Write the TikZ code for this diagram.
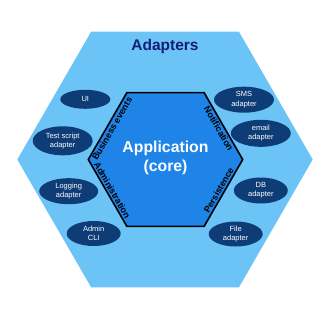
\documentclass[tikz,border=0pt]{standalone}
\usepackage{fontspec}
\setmainfont{Liberation Sans}
\usetikzlibrary{shapes.geometric}
\definecolor{outerblue}{RGB}{108,196,246}
\definecolor{coreblue}{RGB}{30,132,232}
\definecolor{navy}{RGB}{14,60,118}
\definecolor{titlenavy}{RGB}{18,30,120}
\tikzset{
  adapter/.style={ellipse, fill=navy, text=white, inner sep=0pt, align=center,
    font=\fontsize{7.5}{9.3}\selectfont},
  edgelabel/.style={font=\bfseries\fontsize{9}{10}\selectfont, text=black, inner sep=0pt},
}
\begin{document}
\begin{tikzpicture}[x=1pt,y=-1pt]
\useasboundingbox (0,0) rectangle (330,330);
\fill[white] (0,0) rectangle (330,330);
% outer hexagon
\fill[outerblue] (17.3,159.5) -- (91.2,31.6) -- (238.9,31.6) -- (312.7,159.5) -- (238.9,287.4) -- (91.2,287.4) -- cycle;
% inner hexagon
\filldraw[fill=coreblue, draw=black, line width=1.6pt, line join=miter]
  (88.3,159.5) -- (126.9,92.6) -- (204.1,92.6) -- (242.7,159.5) -- (204.1,226.4) -- (126.9,226.4) -- cycle;
\node[text=titlenavy, font=\bfseries\fontsize{15.5}{18}\selectfont] (title) at (165,46.5) {Adapters};
\node[text=white, align=center, font=\bfseries\fontsize{15.8}{19.5}\selectfont] (core) at (165.5,158) {Application\\(core)};
% edge labels
\node[edgelabel, rotate=60] (be) at (112.2,128.6) {Business events};
\node[edgelabel, rotate=-60] (adm) at (112.2,190.4) {Administration};
\node[edgelabel, rotate=-60] (notif) at (218.8,128.6) {Notification};
\node[edgelabel, rotate=60] (pers) at (218.8,190.4) {Persistence};
% adapters
\node[adapter, minimum width=50pt, minimum height=19pt] (ui) at (85.3,99.3) {UI};
\node[adapter, minimum width=60pt, minimum height=29pt] (test) at (62.7,140.8) {Test script\\adapter};
\node[adapter, minimum width=59pt, minimum height=26pt] (log) at (68.7,191.2) {Logging\\adapter};
\node[adapter, minimum width=54pt, minimum height=25pt] (cli) at (93.7,233.5) {Admin\\CLI};
\node[adapter, minimum width=60pt, minimum height=26pt] (sms) at (244,99.7) {SMS\\adapter};
\node[adapter, minimum width=60pt, minimum height=27pt] (email) at (260.8,133.3) {email\\adapter};
\node[adapter, minimum width=54pt, minimum height=26pt] (db) at (260.8,190.5) {DB\\adapter};
\node[adapter, minimum width=54pt, minimum height=25pt] (file) at (235.7,234) {File\\adapter};
\end{tikzpicture}
\end{document}
